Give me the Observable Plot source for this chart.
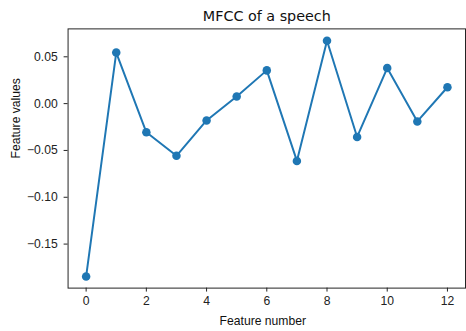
<!DOCTYPE html>
<html>
<head>
<meta charset="utf-8">
<script src="https://cdn.jsdelivr.net/npm/d3@7"></script>
<script src="https://cdn.jsdelivr.net/npm/@observablehq/plot@0.6"></script>
<style>
  html, body { margin: 0; padding: 0; background: #fff; overflow: hidden; }
  #chart { position: relative; width: 466px; height: 331px; overflow: hidden; }
  #chart svg { position: absolute; left: 0; top: 0; }
</style>
</head>
<body>
<div id="chart"></div>
<script>
// MFCC coefficients of a speech sample
const featureNumbers = [0, 1, 2, 3, 4, 5, 6, 7, 8, 9, 10, 11, 12];
const featureValues = [-0.1845, 0.0545, -0.0306, -0.0557, -0.0180, 0.0077, 0.0355, -0.0612, 0.0672, -0.0356, 0.0380, -0.0190, 0.0175];
const xTicks = [0, 2, 4, 6, 8, 10, 12];
const yTicks = [-0.15, -0.10, -0.05, 0.00, 0.05];

const titleText = "MFCC of a speech";
const xLabel = "Feature number";
const yLabel = "Feature values";

const data = featureNumbers.map((n, i) => ({n, v: featureValues[i]}));

const blue = "#1f77b4";
const labelFont = "'Liberation Sans', Arial, sans-serif";

const chart = Plot.plot({
  width: 471,
  height: 331,
  marginLeft: 68.3,
  marginRight: 1,
  marginTop: 28.7,
  marginBottom: 40.3,
  style: {fontFamily: labelFont, fontSize: "12.3px", color: "#222", background: "white", overflow: "visible"},
  x: {domain: [-0.6, 12.6], label: null},
  y: {domain: [-0.197, 0.0798], label: null},
  marks: [
    Plot.line(data, {x: "n", y: "v", stroke: blue, strokeWidth: 2}),
    Plot.dot(data, {x: "n", y: "v", fill: blue, r: 4.3}),
    Plot.frame({stroke: "#222", strokeWidth: 1}),
    Plot.axisX({ticks: xTicks, tickSize: 4, tickPadding: 4.5, fontSize: 12.3, label: null}),
    Plot.axisY({ticks: yTicks, tickFormat: d3.format(".2f"), tickSize: 4, tickPadding: 6.5, fontSize: 12.3, label: null}),
    Plot.text([titleText], {frameAnchor: "top", dy: -18, text: d => d, fontSize: 14.5, fontFamily: "'DejaVu Sans', sans-serif", fill: "#111", textAnchor: "middle"}),
    Plot.text([xLabel], {frameAnchor: "bottom", dy: 37, dx: -4, text: d => d, fontSize: 12.3, fill: "#111"}),
    Plot.text([yLabel], {frameAnchor: "left", dx: -53, rotate: -90, text: d => d, fontSize: 12.3, fill: "#111"})
  ]
});

document.getElementById("chart").appendChild(chart);
</script>
</body>
</html>
